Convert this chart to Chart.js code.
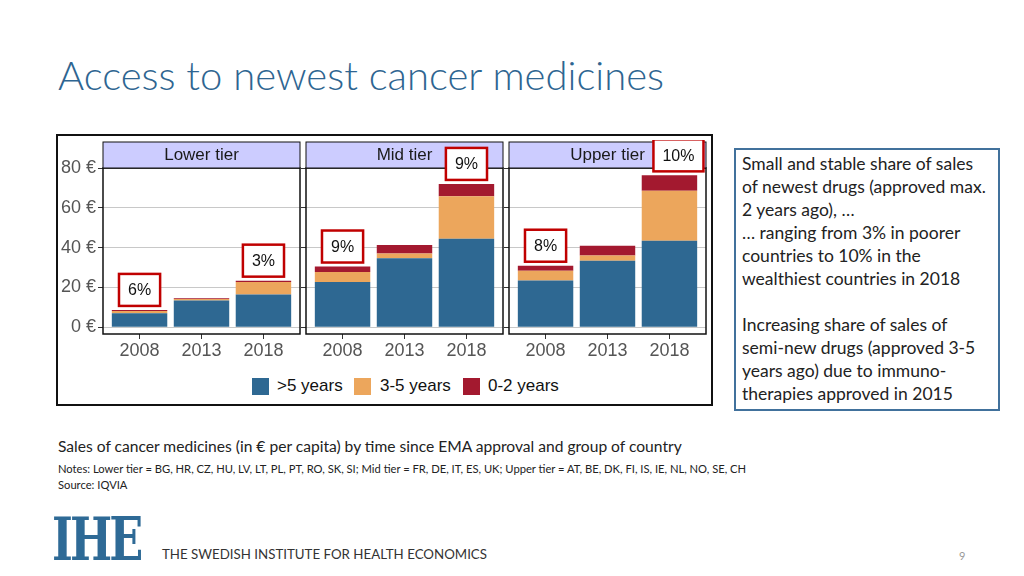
<!DOCTYPE html>
<html>
<head>
<meta charset="utf-8">
<script src="https://cdn.jsdelivr.net/npm/chart.js@4/dist/chart.umd.min.js"></script>
<style>
  body { margin: 0; width: 1024px; height: 576px; background: #fff; position: relative; overflow: hidden; font-family: Lato, "Open Sans", sans-serif; }
  .abs { position: absolute; white-space: nowrap; }
  #title { left: 58px; top: 51px; font-size: 40px; font-weight: 300; color: #2e6591; }
  #frame { left: 56px; top: 134px; width: 653px; height: 268px; border: 2px solid #111; }
  canvas { position: absolute; }
  .leg { position: absolute; top: 378px; width: 17px; height: 17px; }
  .legtxt { position: absolute; top: 376px; font: 17px Arial, "Liberation Sans", sans-serif; color: #111; }
  #note { left: 734px; top: 148px; width: 262px; height: 259px; border: 2px solid #41719c; }
  #notetxt { left: 742px; top: 152px; font-size: 17.5px; line-height: 23px; color: #222; }
  #caption { left: 58px; top: 437px; font-size: 15.6px; color: #222; }
  #notes { left: 58px; top: 462px; font-size: 11.2px; color: #222; }
  #source { left: 58px; top: 478px; font-size: 11.2px; color: #222; }
  #logo { left: 52px; top: 505px; font: bold 62px "DejaVu Serif", serif; color: #2e6a96; transform-origin: 0 0; transform: scale(0.72, 0.95); letter-spacing: -4px; }
  #footer { left: 162px; top: 546px; font-size: 13.3px; color: #333; }
  #page { left: 959px; top: 549px; font-size: 11px; color: #999; }
</style>
</head>
<body>
<div class="abs" id="title">Access to newest cancer medicines</div>
<div class="abs" id="frame"></div>
<canvas id="c0" width="246" height="225" style="left:56px;top:140px"></canvas>
<canvas id="c1" width="205" height="225" style="left:300px;top:140px"></canvas>
<canvas id="c2" width="205" height="225" style="left:503px;top:140px"></canvas>
<div id="legend"></div>
<div class="abs" id="note"></div>
<div class="abs" id="notetxt">Small and stable share of sales<br>of newest drugs (approved max.<br>2 years ago), …<br>… ranging from 3% in poorer<br>countries to 10% in the<br>wealthiest countries in 2018<br><br>Increasing share of sales of<br>semi-new drugs (approved 3-5<br>years ago) due to immuno-<br>therapies approved in 2015</div>
<div class="abs" id="caption">Sales of cancer medicines (in € per capita) by time since EMA approval and group of country</div>
<div class="abs" id="notes">Notes: Lower tier = BG, HR, CZ, HU, LV, LT, PL, PT, RO, SK, SI; Mid tier = FR, DE, IT, ES, UK; Upper tier = AT, BE, DK, FI, IS, IE, NL, NO, SE, CH</div>
<div class="abs" id="source">Source: IQVIA</div>
<div class="abs" id="logo">IHE</div>
<div class="abs" id="footer">THE SWEDISH INSTITUTE FOR HEALTH ECONOMICS</div>
<div class="abs" id="page">9</div>
<script>
const years = ['2008', '2013', '2018'];
const tiers = ['Lower tier', 'Mid tier', 'Upper tier'];
const seriesNames = ['>5 years', '3-5 years', '0-2 years'];
const yTicks = [0, 20, 40, 60, 80];

// € per capita, per tier, by year
const over5 = [[7.0, 13.4, 16.4], [22.7, 34.6, 44.5], [23.5, 33.4, 43.5]];
const mid35 = [[1.2, 0.8, 6.3], [5.0, 2.5, 21.3], [4.9, 2.7, 25.1]];
const new02 = [[0.5, 0.4, 0.7], [2.8, 4.2, 6.2], [2.5, 4.8, 7.7]];
// share of 0-2 years in total, shown in boxes
const share = [['6%', null, '3%'], ['9%', null, '9%'], ['8%', null, '10%']];

const colors = ['#2e6892', '#eca65c', '#a3192f'];
const boxNudge = [[0, 0, 0], [0, 0, 0], [0, 0, 9]];
const tickFont = { family: 'Arial, "Liberation Sans", sans-serif', size: 18 };

const panelPlugin = {
  id: 'panel',
  afterDraw(chart) {
    const ctx = chart.ctx;
    const a = chart.chartArea;
    const p = chart.options.plugins.panel;
    ctx.save();
    ctx.strokeStyle = '#111';
    ctx.lineWidth = 1.5;
    ctx.strokeRect(a.left, a.top, a.right - a.left, a.bottom - a.top);
    // strip
    ctx.fillStyle = '#ccccff';
    ctx.fillRect(a.left, a.top - 26, a.right - a.left, 26);
    ctx.lineWidth = 1;
    ctx.strokeRect(a.left, a.top - 26, a.right - a.left, 26);
    ctx.fillStyle = '#1a1a1a';
    ctx.font = '17px Arial, "Liberation Sans", sans-serif';
    ctx.textAlign = 'center';
    ctx.textBaseline = 'middle';
    ctx.fillText(p.title, (a.left + a.right) / 2, a.top - 13);
    // share boxes above the total bar
    const meta = chart.getDatasetMeta(chart.data.datasets.length - 1);
    ctx.font = '16px Arial, "Liberation Sans", sans-serif';
    p.labels.forEach((txt, i) => {
      if (!txt) return;
      const bar = meta.data[i];
      const w = ctx.measureText(txt).width + 18;
      const h = 32;
      const cx = bar.x + p.nudge[i];
      const bottom = bar.y - 4;
      ctx.fillStyle = '#fff';
      ctx.fillRect(cx - w / 2, bottom - h, w, h);
      ctx.strokeStyle = '#c00000';
      ctx.lineWidth = 2.5;
      ctx.strokeRect(cx - w / 2, bottom - h, w, h);
      ctx.fillStyle = '#111';
      ctx.fillText(txt, cx, bottom - h / 2 + 1);
    });
    ctx.restore();
  }
};

tiers.forEach((tier, t) => {
  const first = t === 0;
  const sets = [over5[t], mid35[t], new02[t]].map((vals, s) => ({
    label: seriesNames[s],
    data: vals.map((v, i) => ({ x: i, y: v })),
    backgroundColor: colors[s],
    barPercentage: 0.895,
    categoryPercentage: 1
  }));
  new Chart(document.getElementById('c' + t), {
    type: 'bar',
    data: { datasets: sets },
    options: {
      responsive: false,
      animation: false,
      layout: { padding: { top: 28, right: 2 } },
      plugins: {
        legend: { display: false },
        tooltip: { enabled: false },
        panel: { title: tier, labels: share[t], nudge: boxNudge[t] }
      },
      scales: {
        x: {
          type: 'linear', stacked: true, min: -0.59, max: 2.59, offset: false,
          afterBuildTicks: s => { s.ticks = years.map((y, i) => ({ value: i })); },
          afterFit: s => { s.height = 31; },
          ticks: { callback: v => years[v], color: '#555', font: tickFont, padding: 1, maxRotation: 0 },
          grid: { drawOnChartArea: false, offset: false, tickLength: 5, color: '#333' },
          border: { display: false }
        },
        y: {
          stacked: true, min: -3.4, max: 80,
          afterBuildTicks: s => { s.ticks = yTicks.map(v => ({ value: v })); },
          afterFit: s => { s.width = first ? 47 : 6; },
          ticks: { display: first, callback: v => v + ' €', color: '#555', font: tickFont, padding: 2 },
          grid: { color: '#c8c8c8', tickColor: '#333', tickLength: 5 },
          border: { display: false }
        }
      }
    },
    plugins: [panelPlugin]
  });
});

// legend
const legend = document.getElementById('legend');
const legPos = [[252, 277], [354, 380], [463, 488]];
seriesNames.forEach((name, s) => {
  legend.innerHTML += `<div class="leg" style="left:${legPos[s][0]}px;background:${colors[s]}"></div>` +
    `<div class="legtxt" style="left:${legPos[s][1]}px">${name.replace('>', '&gt;')}</div>`;
});
</script>
</body>
</html>
